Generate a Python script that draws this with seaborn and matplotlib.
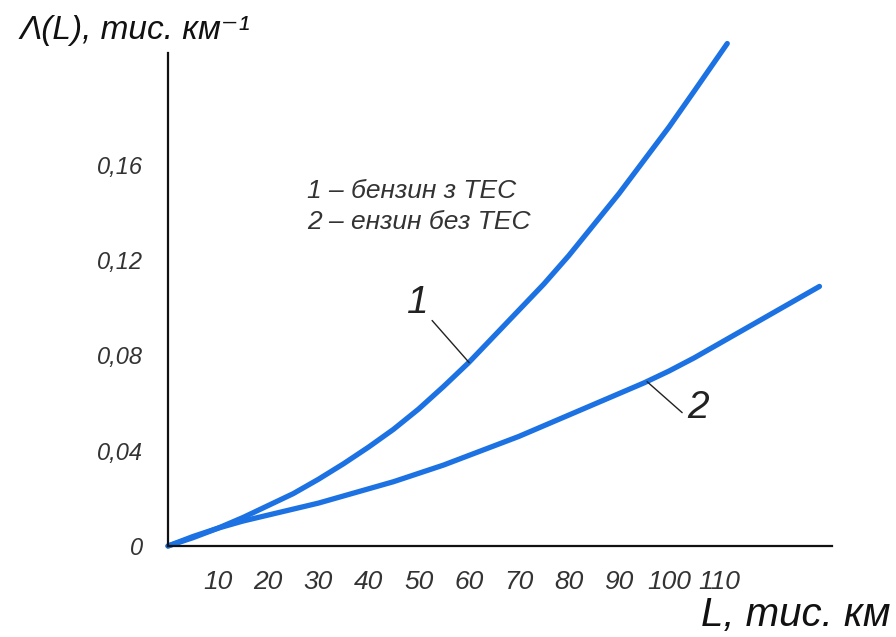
import matplotlib
matplotlib.use("Agg")
import matplotlib.pyplot as plt
from matplotlib import font_manager
import seaborn as sns
import pandas as pd

# ---- data ----
L1 = [0, 5, 10, 15, 20, 25, 30, 35, 40, 45, 50, 55, 60, 65, 70, 75, 80, 85, 90, 95, 100, 105, 111.6]
lam1 = [0, 0.0035, 0.0075, 0.012, 0.017, 0.022, 0.028, 0.0345, 0.0415, 0.049, 0.0575, 0.067,
        0.077, 0.088, 0.099, 0.110, 0.122, 0.135, 0.148, 0.162, 0.176, 0.191, 0.211]
L2 = [0, 5, 10, 15, 20, 25, 30, 35, 40, 45, 50, 55, 60, 65, 70, 75, 80, 85, 90, 95, 100,
      105, 110, 115, 120, 125, 130]
lam2 = [0, 0.004, 0.0075, 0.0105, 0.013, 0.0155, 0.018, 0.021, 0.024, 0.027, 0.0305, 0.034,
        0.038, 0.042, 0.046, 0.0505, 0.055, 0.0595, 0.064, 0.0685, 0.0735, 0.079, 0.085,
        0.091, 0.097, 0.103, 0.109]

x_ticks = [10, 20, 30, 40, 50, 60, 70, 80, 90, 100, 110, 120, 130]
x_tick_labels = ["10", "20", "30", "40", "50", "60", "70", "80", "90", "100", "110", "", ""]
y_ticks = [0, 0.02, 0.04, 0.06, 0.08, 0.10, 0.12, 0.14, 0.16, 0.18, 0.20]
y_tick_labels = ["0", "", "0,04", "", "0,08", "", "0,12", "", "0,16", "", ""]

legend_lines = ["1 – бензин з ТЕС", "2 – ензин без ТЕС"]
curve_names = ["1", "2"]
y_title = "Λ(L), тис. км⁻¹"
x_title = "L, тис. км"

df = pd.concat([
    pd.DataFrame({"L": L1, "lam": lam1, "s": curve_names[0]}),
    pd.DataFrame({"L": L2, "lam": lam2, "s": curve_names[1]}),
])

sns.set_style("white")
available = {f.name for f in font_manager.fontManager.ttflist}
fam = [f for f in ["Liberation Sans Narrow", "Liberation Sans", "DejaVu Sans"] if f in available]
plt.rcParams["font.family"] = fam
plt.rcParams["font.style"] = "italic"

fig = plt.figure(figsize=(8.96, 6.37), dpi=100)
ax = fig.add_axes([168 / 896, 91 / 637, 664 / 896, 512 / 637])

blue = "#1c72e2"
sns.lineplot(data=df, x="L", y="lam", hue="s", palette=[blue, blue],
             linewidth=3.8, legend=False, ax=ax, clip_on=False, sort=True,
             solid_joinstyle="round", solid_capstyle="round")

ax.set_xlim(0, 132.5)
ax.set_ylim(0, 0.215)
for s in ["top", "right"]:
    ax.spines[s].set_visible(False)
for s in ["left", "bottom"]:
    ax.spines[s].set_linewidth(1.6)
    ax.spines[s].set_color("#111111")
ax.spines["left"].set_bounds(0, 0.207)

ax.set_xticks(x_ticks)
ax.set_xticklabels(x_tick_labels)
ax.set_yticks(y_ticks)
ax.set_yticklabels(y_tick_labels)
ax.tick_params(axis="both", direction="out", length=7, width=1.4, color="#111111",
               labelcolor="#333333")
ax.tick_params(axis="x", pad=10, labelsize=19)
ax.tick_params(axis="y", pad=11, labelsize=17)
ax.set_xlabel("")
ax.set_ylabel("")

# legend text
ax.text(27.8, 0.149, legend_lines[0], fontsize=19, color="#333333", va="center", ha="left")
ax.text(27.8, 0.136, legend_lines[1], fontsize=19, color="#333333", va="center", ha="left")

# curve labels with leader lines
lead = dict(arrowstyle="-", color="#222222", lw=1.0, shrinkA=0, shrinkB=0)
ax.annotate("", xy=(60.1, 0.077), xytext=(52.7, 0.0947), arrowprops=lead)
ax.text(49.9, 0.102, curve_names[0], fontsize=28, color="#222222", ha="center", va="center")
ax.annotate("", xy=(95.6, 0.069), xytext=(102.6, 0.056), arrowprops=lead)
ax.text(105.8, 0.058, curve_names[1], fontsize=28, color="#222222", ha="center", va="center")

fig.text(20 / 896, 1 - 30 / 637, y_title, fontsize=24, color="#111111", ha="left", va="center")
fig.text(890 / 896, 1 - 615 / 637, x_title, fontsize=29, color="#111111", ha="right", va="center")

fig.savefig("out.png", dpi=100)
